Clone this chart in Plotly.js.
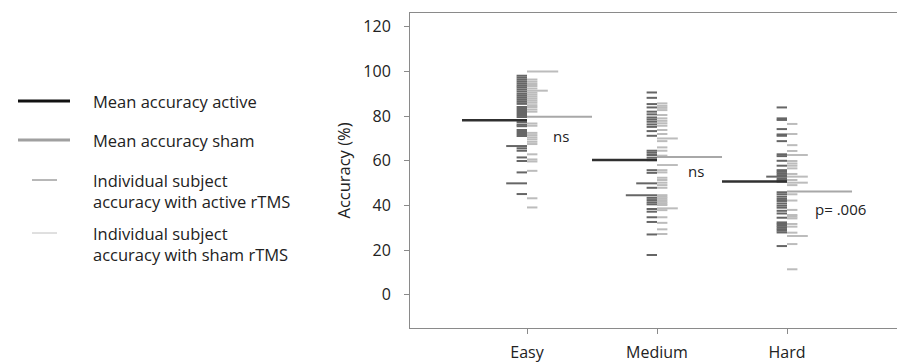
<!DOCTYPE html>
<html>
<head>
<meta charset="utf-8">
<script src="https://cdn.plot.ly/plotly-3.0.1.min.js"></script>
<style>html,body{margin:0;padding:0;background:#fff;}#chart{width:897px;height:362px;}</style>
</head>
<body>
<div id="chart"></div>
<script>
// ---- Data ----
const categories = ['Easy', 'Medium', 'Hard'];

const activeEasy = [98.1, 97.2, 96.3, 95.4, 94.5, 93.6, 92.8, 91.9, 91.0, 90.0, 89.1, 88.2, 87.3, 86.4, 85.5, 84.1, 83.2, 82.3, 81.4, 80.5, 79.6, 78.2, 77.3, 76.2, 75.5, 73.8, 72.9, 72.0, 71.1, 66.6, 66.6, 65.6, 64.5, 61.5, 59.9, 54.8, 49.9, 49.9, 45.1];
const activeMedium = [90.6, 88.2, 85.4, 83.9, 82.0, 80.8, 79.4, 78.5, 77.5, 76.3, 75.2, 73.3, 71.2, 64.5, 63.6, 62.6, 61.4, 60.3, 55.8, 54.6, 49.9, 49.9, 47.9, 44.6, 44.6, 44.6, 43.4, 42.4, 41.4, 40.5, 38.4, 37.2, 34.7, 32.6, 27.0, 17.8];
const activeHard = [83.9, 79.0, 78.3, 74.2, 71.8, 71.2, 68.8, 62.9, 62.1, 60.0, 57.8, 55.8, 55.1, 54.4, 53.6, 52.9, 52.9, 52.1, 51.4, 50.7, 45.9, 45.0, 43.9, 42.9, 42.0, 40.9, 39.9, 39.0, 37.6, 36.4, 34.5, 32.4, 31.7, 30.9, 30.2, 29.4, 28.7, 27.9, 21.8];

const shamEasy = [100, 100, 100, 96.4, 95.4, 94.4, 93.5, 92.4, 91.4, 91.4, 90.5, 89.6, 88.7, 87.8, 86.9, 86.0, 84.9, 84.1, 83.0, 82.0, 76.7, 75.7, 72.5, 71.5, 70.5, 69.6, 68.5, 67.5, 62.9, 60.6, 59.7, 55.5, 43.2, 39.1];
const shamMedium = [85.7, 84.6, 83.7, 82.7, 80.5, 79.0, 77.9, 76.8, 75.7, 73.8, 72.0, 70.0, 70.0, 68.8, 66.0, 64.5, 62.3, 58.1, 58.1, 55.8, 54.8, 52.4, 51.4, 50.2, 49.1, 47.9, 44.6, 43.9, 43.2, 42.4, 41.6, 40.9, 40.2, 38.7, 38.7, 37.9, 34.7, 32.2, 29.3, 27.2];
const shamHard = [76.5, 72.0, 67.0, 64.4, 62.6, 62.6, 59.9, 58.8, 57.8, 56.6, 54.1, 52.9, 52.9, 51.4, 50.2, 50.2, 49.1, 45.0, 42.2, 38.0, 35.7, 35.0, 34.2, 31.7, 30.5, 27.8, 26.3, 26.3, 22.7, 11.4];

const meanActive = [78.2, 60.3, 50.7];
const meanSham = [79.7, 61.7, 46.2];

const significance = ['ns', 'ns', 'p= .006'];
const sigY = [71, 55.4, 38.3];

const legendLabels = ['Mean accuracy active', 'Mean accuracy sham',
  'Individual subject<br>accuracy with active rTMS', 'Individual subject<br>accuracy with sham rTMS'];

// ---- Build dash segments ----
const UNIT = 0.08;   // length of one subject's dash (category units)
function dashes(groups, side) {
  const xs = [], ys = [];
  groups.forEach((vals, i) => {
    const counts = {};
    vals.forEach(v => { counts[v] = (counts[v] || 0) + 1; });
    Object.keys(counts).forEach(k => {
      const v = parseFloat(k), len = UNIT * counts[k];
      if (side < 0) { xs.push(i - len, i, null); } else { xs.push(i, i + len, null); }
      ys.push(v, v, null);
    });
  });
  return {xs, ys};
}
function means(vals, side) {
  const xs = [], ys = [];
  vals.forEach((v, i) => {
    if (side < 0) xs.push(i - 0.5, i, null); else xs.push(i, i + 0.5, null);
    ys.push(v, v, null);
  });
  return {xs, ys};
}

const FONT = '"Open Sans", sans-serif';
const aD = dashes([activeEasy, activeMedium, activeHard], -1);
const sD = dashes([shamEasy, shamMedium, shamHard], 1);
const aM = means(meanActive, -1);
const sM = means(meanSham, 1);

const traces = [
  {x: sD.xs, y: sD.ys, mode: 'lines', line: {color: '#bcbcbc', width: 2}, hoverinfo: 'skip', showlegend: false},
  {x: aD.xs, y: aD.ys, mode: 'lines', line: {color: '#666666', width: 2}, hoverinfo: 'skip', showlegend: false},
  {x: sM.xs, y: sM.ys, mode: 'lines', line: {color: '#a8a8a8', width: 2}, hoverinfo: 'skip', showlegend: false},
  {x: aM.xs, y: aM.ys, mode: 'lines', line: {color: '#303030', width: 2.5}, hoverinfo: 'skip', showlegend: false}
];

// plot area in pixels: left 410, right 897, top 13, bottom 328
const L = 410, R = 897, T = 13, B = 328;
const px = p => (p - L) / (R - L);
const py = p => (B - p) / (B - T);

const annotations = categories.map((c, i) => ({
  x: i + [0.26, 0.30, 0.41][i], y: sigY[i], xref: 'x', yref: 'y', text: significance[i],
  showarrow: false, font: {family: FONT, size: 15, color: '#222'}, xanchor: 'center', yanchor: 'middle'
}));

const legendRows = [101, 140, 191, 244];
const legendLines = [
  {x0: 18, x1: 70, color: '#111', w: 3},
  {x0: 18, x1: 70, color: '#a0a0a0', w: 3},
  {x0: 32, x1: 57, color: '#707070', w: 1},
  {x0: 32, x1: 57, color: '#c0c0c0', w: 1}
];
const lineRows = [101, 140, 180, 233];
const shapes = legendLines.map((s, i) => ({
  type: 'line', xref: 'paper', yref: 'paper', x0: px(s.x0), x1: px(s.x1), y0: py(lineRows[i]), y1: py(lineRows[i]),
  line: {color: s.color, width: s.w}
}));
legendLabels.forEach((t, i) => {
  annotations.push({
    x: px(91), y: py(legendRows[i]), xref: 'paper', yref: 'paper', text: t, align: 'left',
    showarrow: false, xanchor: 'left', yanchor: 'middle',
    font: {family: FONT, size: 16.5, color: '#222'}
  });
});

const layout = {
  width: 897, height: 362,
  margin: {l: L, r: 0, t: T, b: 362 - B, pad: 0},
  paper_bgcolor: '#fff', plot_bgcolor: '#fff',
  showlegend: false,
  font: {family: FONT, color: '#222', size: 15},
  xaxis: {
    range: [-0.9, 2.846], tickvals: [0, 1, 2], ticktext: categories,
    showgrid: false, zeroline: false, showline: true, mirror: true, linecolor: '#8a8a8a', linewidth: 1,
    ticks: 'outside', ticklen: 5, tickcolor: '#8a8a8a', tickfont: {family: FONT, size: 16, color: '#222'},
    ticklabelstandoff: 5
  },
  yaxis: {
    range: [-14.9, 126.2], tickvals: [0, 20, 40, 60, 80, 100, 120],
    showgrid: false, zeroline: false, showline: true, linecolor: '#8a8a8a', linewidth: 1,
    ticks: 'outside', ticklen: 5, tickcolor: '#8a8a8a', tickfont: {family: FONT, size: 16, color: '#222'},
    ticklabelstandoff: 10,
    title: {text: 'Accuracy (%)', font: {family: FONT, size: 16.5, color: '#222'}, standoff: 8}
  },
  annotations: annotations,
  shapes: shapes
};

Plotly.newPlot('chart', traces, layout, {staticPlot: true, displayModeBar: false});
</script>
</body>
</html>
